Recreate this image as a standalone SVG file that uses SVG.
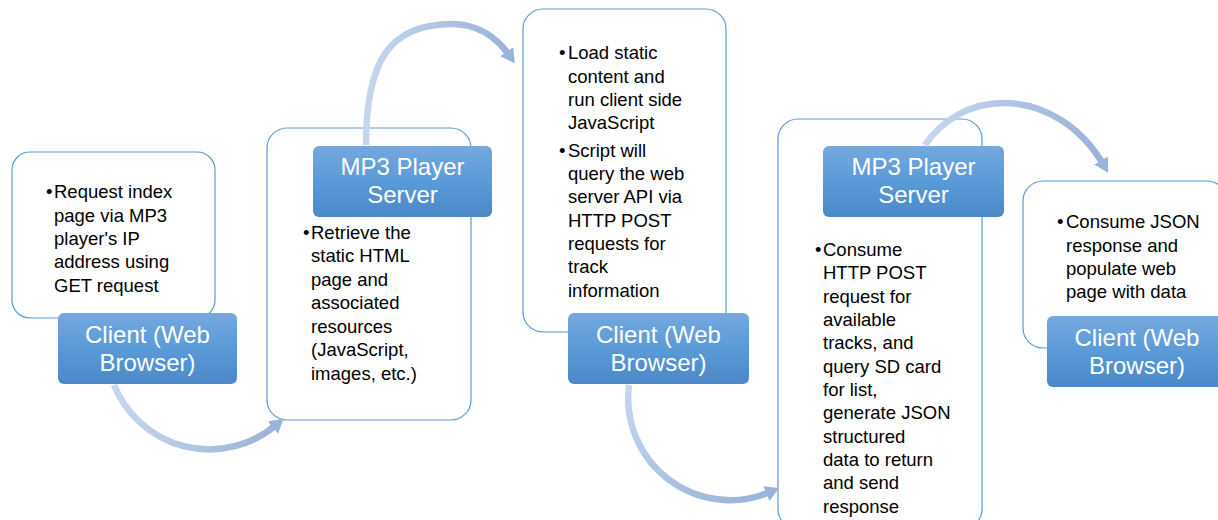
<svg xmlns="http://www.w3.org/2000/svg" width="1218" height="520" viewBox="0 0 1218 520">
<style>
.box{fill:#fff;stroke:#5b9bd5;stroke-width:1.2}
.lab{fill:url(#lg)}
.lt{font-family:"Liberation Sans",Arial,sans-serif;font-size:24px;fill:#fff;text-anchor:middle}
.bt{font-family:"Liberation Sans",Arial,sans-serif;font-size:18.5px;fill:#000}
.arr{fill:none;stroke-width:6.5;marker-end:url(#ah)}
</style>
<defs>
<linearGradient id="lg" x1="0" y1="0" x2="0" y2="1">
<stop offset="0" stop-color="#75a8de"/>
<stop offset="0.5" stop-color="#5b9ad8"/>
<stop offset="1" stop-color="#4a88c8"/>
</linearGradient>
<linearGradient id="ag" x1="0" y1="0" x2="1" y2="0">
<stop offset="0" stop-color="#c6d6ee"/>
<stop offset="1" stop-color="#9ab2d9"/>
</linearGradient>
<linearGradient id="ag3" x1="0" y1="0" x2="1" y2="1">
<stop offset="0" stop-color="#c6d6ee"/>
<stop offset="1" stop-color="#9ab2d9"/>
</linearGradient>
<marker id="ah" markerUnits="userSpaceOnUse" markerWidth="18" markerHeight="18" refX="4" refY="9" orient="auto">
<path d="M0,1 L14,9 L0,17 Z" fill="#9bb3da"/>
</marker>
</defs>

<g id="node1">
<rect class="box" x="12" y="152" width="203" height="166" rx="18"/>
<text class="bt" x="46" y="198">•</text>
<text class="bt"><tspan x="54" y="198">Request index</tspan><tspan x="54" y="222">page via MP3</tspan><tspan x="54" y="245">player's IP</tspan><tspan x="54" y="268">address using</tspan><tspan x="54" y="292">GET request</tspan></text>
<rect class="lab" x="58" y="313" width="179" height="71" rx="6"/>
<text class="lt"><tspan x="147.5" y="343">Client (Web</tspan><tspan x="147.5" y="371">Browser)</tspan></text>
</g>

<g id="node2">
<rect class="box" x="267" y="128" width="204" height="292" rx="20"/>
<text class="bt" x="303" y="239">•</text>
<text class="bt"><tspan x="311" y="239">Retrieve the</tspan><tspan x="311" y="262">static HTML</tspan><tspan x="311" y="286">page and</tspan><tspan x="311" y="309">associated</tspan><tspan x="311" y="333">resources</tspan><tspan x="311" y="356">(JavaScript,</tspan><tspan x="311" y="380">images, etc.)</tspan></text>
<rect class="lab" x="313" y="146" width="179" height="71" rx="6"/>
<text class="lt"><tspan x="402.5" y="175">MP3 Player</tspan><tspan x="402.5" y="203">Server</tspan></text>
</g>

<g id="node3">
<rect class="box" x="523" y="9" width="203" height="323" rx="20"/>
<text class="bt" x="559" y="59">•</text>
<text class="bt" x="559" y="157">•</text>
<text class="bt"><tspan x="568" y="59">Load static</tspan><tspan x="568" y="83">content and</tspan><tspan x="568" y="106">run client side</tspan><tspan x="568" y="129">JavaScript</tspan><tspan x="568" y="157">Script will</tspan><tspan x="568" y="180">query the web</tspan><tspan x="568" y="203">server API via</tspan><tspan x="568" y="227">HTTP POST</tspan><tspan x="568" y="250">requests for</tspan><tspan x="568" y="273">track</tspan><tspan x="568" y="297">information</tspan></text>
<rect class="lab" x="568" y="313" width="181" height="71" rx="6"/>
<text class="lt"><tspan x="658.5" y="343">Client (Web</tspan><tspan x="658.5" y="371">Browser)</tspan></text>
</g>

<g id="node4">
<rect class="box" x="778" y="119" width="204" height="410" rx="20"/>
<text class="bt" x="815" y="256">•</text>
<text class="bt"><tspan x="823" y="256">Consume</tspan><tspan x="823" y="279">HTTP POST</tspan><tspan x="823" y="303">request for</tspan><tspan x="823" y="326">available</tspan><tspan x="823" y="349">tracks, and</tspan><tspan x="823" y="373">query SD card</tspan><tspan x="823" y="396">for list,</tspan><tspan x="823" y="419">generate JSON</tspan><tspan x="823" y="443">structured</tspan><tspan x="823" y="466">data to return</tspan><tspan x="823" y="489">and send</tspan><tspan x="823" y="513">response</tspan></text>
<rect class="lab" x="823" y="146" width="181" height="71" rx="6"/>
<text class="lt"><tspan x="913.5" y="175">MP3 Player</tspan><tspan x="913.5" y="203">Server</tspan></text>
</g>

<g id="node5">
<rect class="box" x="1023" y="181" width="204" height="167" rx="20"/>
<text class="bt" x="1057" y="228">•</text>
<text class="bt"><tspan x="1066" y="228">Consume JSON</tspan><tspan x="1066" y="252">response and</tspan><tspan x="1066" y="275">populate web</tspan><tspan x="1066" y="298">page with data</tspan></text>
<rect class="lab" x="1047" y="316" width="180" height="71" rx="6"/>
<text class="lt"><tspan x="1137" y="346">Client (Web</tspan><tspan x="1137" y="374">Browser)</tspan></text>
</g>

<g id="connectors">
<path class="arr" stroke="url(#ag)" d="M114,385 A103,103 0 0 0 276,425"/>
<path class="arr" stroke="url(#ag)" d="M366,145 C366,60 390,24 452,24 C478,24 497,38 509,55"/>
<path class="arr" stroke="url(#ag3)" d="M629,385 A102,102 0 0 0 770,492"/>
<path class="arr" stroke="url(#ag)" d="M925,145 C942,120 970,103 1004,103 C1045,103 1082,128 1103,164"/>
</g>
</svg>
